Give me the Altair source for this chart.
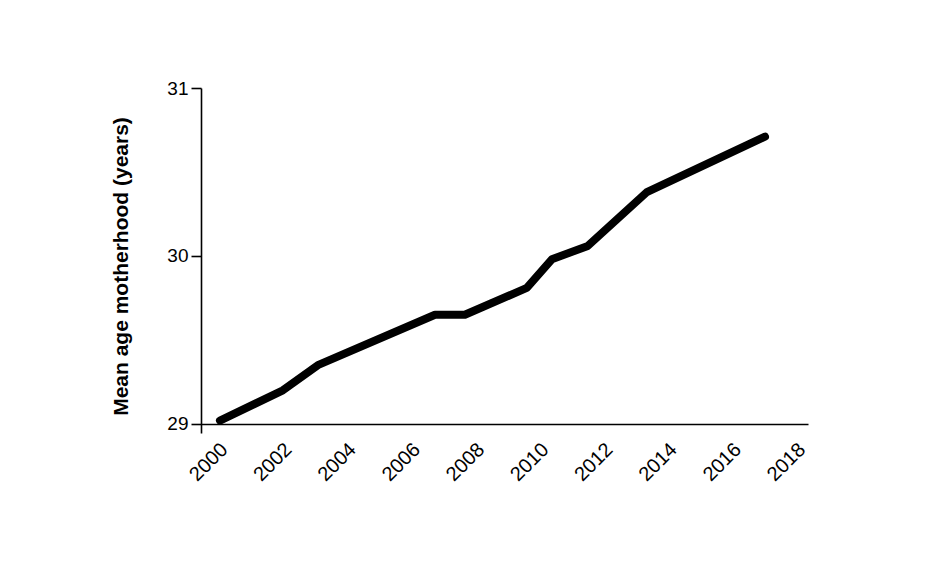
import altair as alt
import pandas as pd

years = [2000.0, 2001.96, 2003.05, 2006.70, 2007.63, 2009.56, 2010.34, 2011.46, 2013.30, 2016.98]
mean_age = [29.02, 29.20, 29.35, 29.65, 29.65, 29.81, 29.98, 30.06, 30.38, 30.71]
x_tick_values = [2000, 2002, 2004, 2006, 2008, 2010, 2012, 2014, 2016, 2018]
y_tick_values = [29, 30, 31]

df = pd.DataFrame({"year": years, "age": mean_age})

FONT = "Liberation Sans"

chart = alt.Chart(df).mark_line(
    color="black", strokeWidth=8, strokeCap="round", strokeJoin="round"
).encode(
    x=alt.X(
        "year:Q",
        scale=alt.Scale(domain=[1999.41, 2018.32], nice=False, zero=False),
        axis=alt.Axis(
            values=x_tick_values, format="d", title=None, grid=False,
            tickCount=20, tickSize=0, labelPadding=15, labelOffset=-3,
            labelAngle=-45, labelAlign="right", labelBaseline="top",
            labelFont=FONT, labelFontSize=20, labelColor="black",
            domainColor="black", domainWidth=1.6, offset=-9,
            labelOverlap=False, labelFlush=False,
        ),
    ),
    y=alt.Y(
        "age:Q",
        scale=alt.Scale(domain=[28.946, 31], nice=False, zero=False),
        axis=alt.Axis(
            values=y_tick_values, format="d", tickCount=20, tickMinStep=0.5,
            title="Mean age motherhood (years)", grid=False,
            tickSize=10, tickColor="black", tickWidth=1.6,
            labelPadding=3, labelFont=FONT, labelFontSize=19, labelColor="black",
            domainColor="black", domainWidth=1.6,
            titleFont=FONT, titleFontSize=21, titleFontWeight="bold",
            titleColor="black", titleAngle=270, titleX=-74, titleY=178,
            titleAlign="center", titleBaseline="alphabetic",
            labelOverlap=False, labelFlush=False,
        ),
    ),
).properties(
    width=607,
    height=345,
    autosize=alt.AutoSizeParams(type="none"),
    padding={"left": 193, "top": 80, "right": 123, "bottom": 140},
).configure(background="white").configure_view(stroke="transparent", strokeWidth=0)

chart.save("out.html", embed_options={"renderer": "svg", "actions": False})
